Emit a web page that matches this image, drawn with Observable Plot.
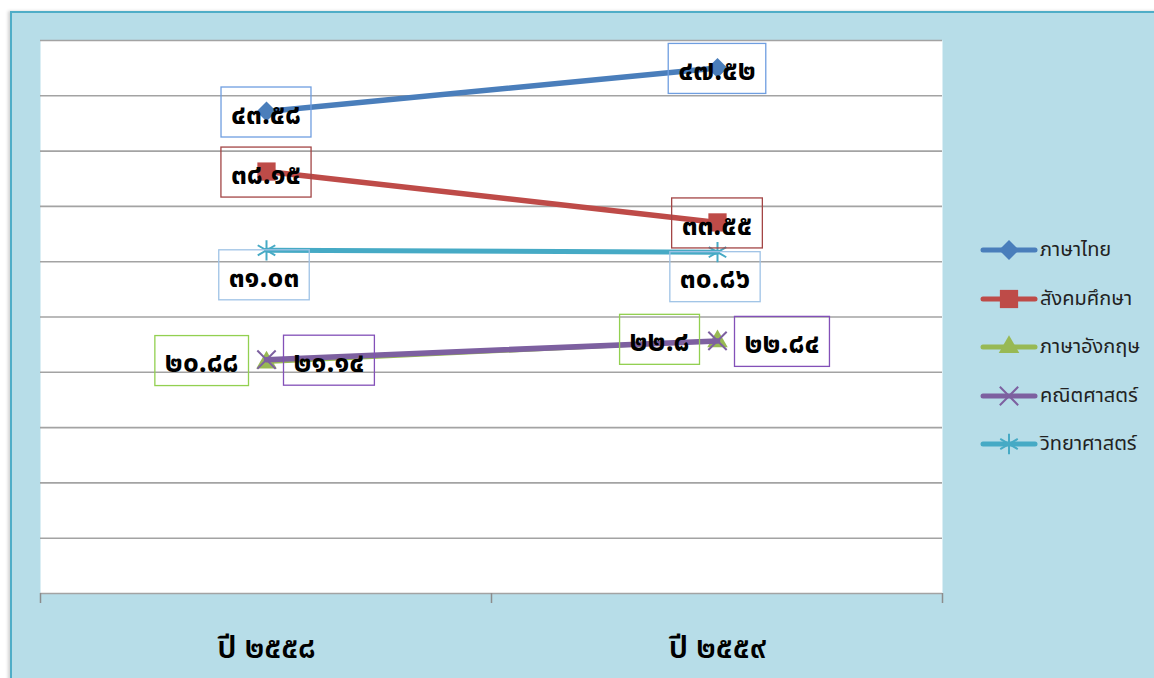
<!DOCTYPE html>
<html><head><meta charset="utf-8">
<script src="https://cdn.jsdelivr.net/npm/d3@7"></script>
<script src="https://cdn.jsdelivr.net/npm/@observablehq/plot@0.6"></script>
<style>
body{margin:0;background:#fff;width:1154px;height:678px;overflow:hidden;position:relative;font-family:Tahoma,"Noto Sans Thai","Noto Sans",sans-serif;}
#frame{position:absolute;left:10px;top:11px;width:1160px;height:690px;background:#b7dde8;border:2px solid #4fadc7;box-shadow:-2px 0 3px rgba(0,0,0,0.18);}
#chart{position:absolute;left:0;top:0;}
#legend{position:absolute;left:980px;top:226px;}
.li{display:flex;align-items:center;height:48.5px;font-size:20px;color:#222;}
.li svg{display:block;margin-right:2px;}
</style></head><body>
<div id="frame"></div>
<div id="chart"></div>
<div id="legend"></div>
<script>
// ---- data ----
const years = ["ปี ๒๕๕๘", "ปี ๒๕๕๙"];
const subjects = ["ภาษาไทย", "สังคมศึกษา", "ภาษาอังกฤษ", "คณิตศาสตร์", "วิทยาศาสตร์"];
const thaiScores = [43.58, 47.52];
const socialScores = [38.15, 33.55];
const englishScores = [20.88, 22.8];
const mathScores = [21.14, 22.84];
const scienceScores = [31.03, 30.86];
const yTicks = [0, 5, 10, 15, 20, 25, 30, 35, 40, 45, 50];

// ---- styles ----
const lineColors = ["#4a7ebb", "#be4b48", "#98b954", "#7d60a0", "#46aac5"];
const boxColors = ["#6f9ee0", "#a34545", "#92d050", "#8350b8", "#9fc3e6"];
const symbols = ["diamond2", "square", "triangle", "times", "asterisk"];
const symbolR = [9, 10.3, 7.6, 8.4, 9.6];
const symbolFilled = [true, true, true, false, false];
const lineWidths = [5.5, 5.5, 3, 5.5, 5];
const labelPlacement = ["center", "center", "left", "right", "below"];

const series = [thaiScores, socialScores, englishScores, mathScores, scienceScores];
const rows = [];
subjects.forEach((s, i) => years.forEach((y, j) => rows.push({subject: s, si: i, year: y, value: series[i][j]})));

const thaiDigits = "๐๑๒๓๔๕๖๗๘๙";
const toThai = v => String(v).replace(/\d/g, d => thaiDigits[+d]);

const labelFont = "bold 28px Tahoma, 'Noto Sans Thai', 'Noto Sans', sans-serif";
const canvas = document.createElement("canvas").getContext("2d");
canvas.font = labelFont;

// boundary ticks on the x axis (category separators)
const boundaryTicks = (index, scales, values, dims) => {
  const x = scales.x, step = x.step();
  const pos = years.map(c => x(c) - step / 2).concat([x(years[years.length - 1]) + step / 2]);
  const g = d3.create("svg:g");
  const yb = dims.height - dims.marginBottom;
  pos.forEach(p => g.append("line").attr("x1", p).attr("x2", p).attr("y1", yb).attr("y2", yb + 10)
    .attr("stroke", "#8c8c8c").attr("stroke-width", 1.5));
  return g.node();
};

// data labels with boxes
const dataLabels = (index, scales) => {
  const g = d3.create("svg:g");
  rows.forEach(r => {
    const px = scales.x(r.year), py = scales.y(r.value);
    const txt = toThai(r.value);
    const w = canvas.measureText(txt).width + 20, h = 50;
    let cx = px, cy = py;
    const pl = labelPlacement[r.si];
    if (pl === "left") { cx = px - 17.5 - w / 2; cy = py - 1.5; }
    else if (pl === "right") { cx = px + 17.5 + w / 2; cy = py + 1; }
    else if (pl === "below") { cx = px - 2; cy = py + 25; }
    else { cy = py + 1; }
    g.append("rect").attr("x", cx - w / 2).attr("y", cy - h / 2).attr("width", w).attr("height", h)
      .attr("fill", "none").attr("stroke", boxColors[r.si]).attr("stroke-width", 1.3);
    g.append("text").attr("x", cx).attr("y", cy).attr("dy", "0.42em").attr("text-anchor", "middle")
      .style("font", labelFont).attr("fill", "#000").text(txt);
  });
  return g.node();
};

const marks = [
  Plot.frame({fill: "white", stroke: null}),
  Plot.ruleY(yTicks, {stroke: "#a3a3a3", strokeWidth: 1.6}),
  Plot.axisX({tickSize: 0, tickPadding: 42, fontSize: 31, fontWeight: 600, fill: "#000"}),
  boundaryTicks
];
subjects.forEach((s, i) => {
  const d = rows.filter(r => r.si === i);
  marks.push(Plot.line(d, {x: "year", y: "value", stroke: lineColors[i], strokeWidth: lineWidths[i], strokeLinecap: "round"}));
  marks.push(Plot.dot(d, {x: "year", y: "value", symbol: () => symbols[i], r: symbolR[i],
    fill: symbolFilled[i] ? lineColors[i] : "none", stroke: symbolFilled[i] ? "none" : lineColors[i], strokeWidth: 2}));
});
marks.push(dataLabels);

const chart = Plot.plot({
  width: 1154, height: 678,
  marginLeft: 40, marginRight: 212, marginTop: 40, marginBottom: 85,
  style: {background: "transparent", fontFamily: "Tahoma, 'Noto Sans Thai', 'Noto Sans', sans-serif", overflow: "visible"},
  x: {type: "point", domain: years, padding: 0.5, label: null},
  y: {domain: [0, 50], axis: null},
  symbol: {domain: symbols, range: symbols},
  marks
});
document.getElementById("chart").append(chart);

// legend
const legend = d3.select("#legend");
subjects.forEach((s, i) => {
  const item = legend.append("div").attr("class", "li");
  const svg = item.append("svg").attr("width", 58).attr("height", 24);
  svg.append("line").attr("x1", 3).attr("x2", 55).attr("y1", 12).attr("y2", 12)
    .attr("stroke", lineColors[i]).attr("stroke-width", 5).attr("stroke-linecap", "round");
  const symMap = {diamond2: d3.symbolDiamond2, square: d3.symbolSquare, triangle: d3.symbolTriangle, times: d3.symbolTimes, asterisk: d3.symbolAsterisk};
  svg.append("path").attr("transform", "translate(29,12)")
    .attr("d", d3.symbol(symMap[symbols[i]], Math.PI * symbolR[i] * symbolR[i])())
    .attr("fill", symbolFilled[i] ? lineColors[i] : "none")
    .attr("stroke", symbolFilled[i] ? "none" : lineColors[i]).attr("stroke-width", 2);
  item.append("span").text(s);
});
</script>
</body></html>
